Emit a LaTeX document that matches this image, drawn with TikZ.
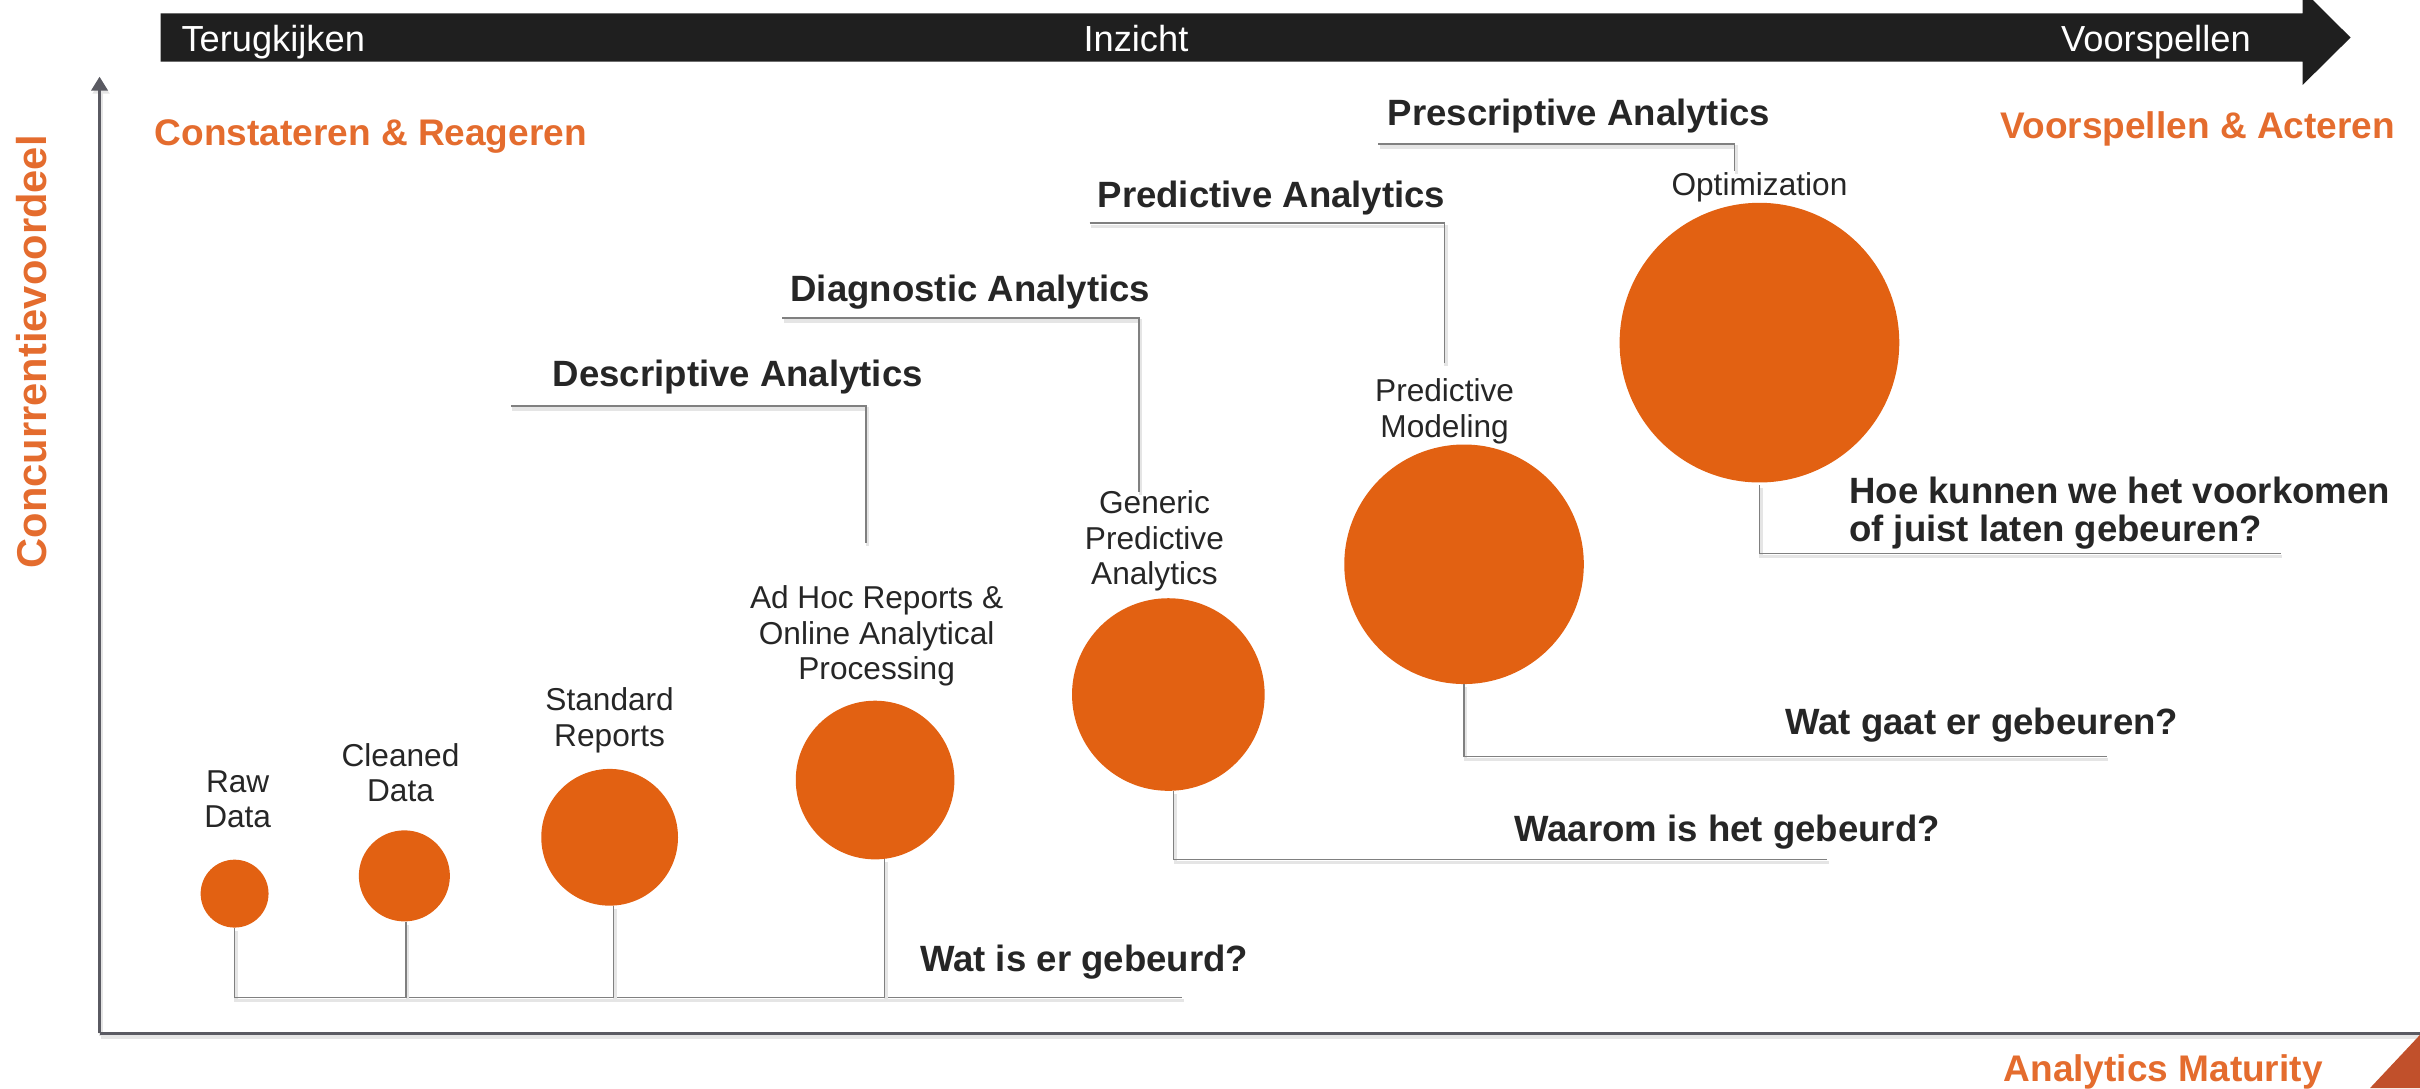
\documentclass[tikz,border=0pt]{standalone}
\usepackage{fontspec}
\setmainfont{Liberation Sans}
\usepackage{tikz}
\usetikzlibrary{positioning,arrows.meta}
\definecolor{bubble}{HTML}{E26112}
\definecolor{accent}{HTML}{E46C2E}
\definecolor{corner}{HTML}{C1502B}
\definecolor{bar}{HTML}{1F1F1F}
\definecolor{axis}{HTML}{5A5A62}
\definecolor{leadgray}{HTML}{808080}
\definecolor{ink}{HTML}{262626}

\begin{document}
\begin{tikzpicture}[x=1pt,y=-1pt,
    bubble/.style={circle, fill=bubble, inner sep=0pt, minimum size=#1},
    lbl/.style={font=\fontsize{20.5}{23}\selectfont, align=center, inner sep=0pt, text=ink},
    quest/.style={font=\bfseries\fontsize{23.7}{24.5}\selectfont, inner sep=0pt, text=ink},
    zone/.style={font=\bfseries\fontsize{24}{28}\selectfont, inner sep=0pt, text=accent},
    bartext/.style={font=\fontsize{23.5}{28}\selectfont, inner sep=0pt, text=white},
    shadowed/.style={preaction={draw=black!10, line width=#1, transform canvas={xshift=1pt, yshift=-2pt}}},
    leader/.style={draw=leadgray, line width=0.9pt, shadowed=2.2pt},
    axisline/.style={draw=axis, line width=1.7pt, shadowed=3pt}]
  \useasboundingbox (0,0) rectangle (1568,705);

  % Top bar
  \fill[bar] (104,8.6) -- (1492,8.6) -- (1492,0) -- (1498.5,0) -- (1523,24.3)
    -- (1492,55) -- (1492,40) -- (104,40) -- cycle;
  \node[bartext, anchor=base west] (back) at (117.4,33.5) {Terugkijken};
  \node[bartext, anchor=base] (insight) at (736,33.5) {Inzicht};
  \node[bartext, anchor=base east] (ahead) at (1458.5,33.5) {Voorspellen};

  % Axes
  \coordinate (origin) at (64.5,669.5);
  \coordinate (ytop) at (64.5,49.7);
  \coordinate (xend) at (1568,669.5);
  \draw[axisline, -{Triangle[width=10.6pt,length=9pt]}] (origin) -- (ytop);
  \draw[axisline] (origin) -- (xend);
  \fill[corner] (1535.6,705) -- (1568,670.5) -- (1568,705) -- cycle;
  \node[zone, font=\bfseries\fontsize{27}{30}\selectfont, rotate=90, anchor=base] (yaxis) at (30.3,228) {Concurrentievoordeel};
  \node[zone, anchor=base west] (xaxis) at (1298,701) {Analytics Maturity};
  \node[zone, anchor=base west] (react) at (100,94) {Constateren \& Reageren};
  \node[zone, anchor=base east] (act) at (1552,89.6) {Voorspellen \& Acteren};

  % Define nodes
  \node[bubble=44pt] (raw) at (152,579) {};
  \node[bubble=59pt] (clean) at (262,567.5) {};
  \node[bubble=88.6pt] (std) at (395,542.5) {};
  \node[bubble=102.8pt] (adhoc) at (567,505.4) {};
  \node[bubble=124.8pt] (gpa) at (757,450) {};
  \node[bubble=155.2pt] (pmod) at (948.6,365.6) {};
  \node[bubble=181.2pt] (opt) at (1140,222) {};

  \node[lbl, above=20pt of raw, xshift=2pt] (rawlbl) {Raw\\Data};
  \node[lbl, above=18pt of clean, xshift=-2.5pt] (cleanlbl) {Cleaned\\Data};
  \node[lbl, above=10pt of std] (stdlbl) {Standard\\Reports};
  \node[lbl, above=9pt of adhoc, xshift=1pt] (adhoclbl) {Ad Hoc Reports \&\\Online Analytical\\Processing};
  \node[lbl, above=4pt of gpa, xshift=-9pt] (gpalbl) {Generic\\Predictive\\Analytics};
  \node[lbl, above=0pt of pmod, xshift=-12.6pt] (pmodlbl) {Predictive\\Modeling};
  \node[lbl, above=0pt of opt] (optlbl) {Optimization};

  \node[quest, anchor=base west] (desc) at (358,250.5) {Descriptive Analytics};
  \node[quest, anchor=base west] (diag) at (512,195.5) {Diagnostic Analytics};
  \node[quest, anchor=base west] (pred) at (711,134.5) {Predictive Analytics};
  \node[quest, anchor=base west] (presc) at (899,81.5) {Prescriptive Analytics};

  \node[quest, anchor=base west] (q1) at (596,629.6) {Wat is er gebeurd?};
  \node[quest, anchor=base west] (q2) at (981,545) {Waarom is het gebeurd?};
  \node[quest, anchor=base west] (q3) at (1156.5,476) {Wat gaat er gebeuren?};
  \node[quest, anchor=north west, align=left] (q4) at (1198,308.7) {Hoe kunnen we het voorkomen\\of juist laten gebeuren?};

  % Connect the nodes
  \coordinate (descL) at (331,263);
  \coordinate (descE) at (561,352);
  \coordinate (diagL) at (507,206);
  \coordinate (diagE) at (738,318.6);
  \coordinate (predL) at (706,144.6);
  \coordinate (predE) at (936,235.4);
  \coordinate (prescL) at (893,93.3);
  \coordinate (prescE) at (1124,111);
  \draw[leader] (descL) -| (descE);
  \draw[leader] (diagL) -| (diagE);
  \draw[leader] (predL) -| (predE);
  \draw[leader] (prescL) -| (prescE);

  \coordinate (q1end) at (766,646.4);
  \coordinate (q2end) at (1184,557);
  \coordinate (q3end) at (1365,490);
  \coordinate (q4end) at (1477.6,358.5);
  \draw[leader] (raw.south) |- (q1end);
  \draw[leader] ([xshift=1pt]clean.south) -- ([xshift=1pt]clean.south |- q1end);
  \draw[leader] ([xshift=2.6pt]std.south) -- ([xshift=2.6pt]std.south |- q1end);
  \draw[leader] ([xshift=6pt,yshift=0.5pt]adhoc.south) -- ([xshift=6pt]adhoc.south |- q1end);
  \draw[leader] ([xshift=3.5pt]gpa.south) |- (q2end);
  \draw[leader] (pmod.south) |- (q3end);
  \draw[leader] ([yshift=-1.5pt]opt.south) |- (q4end);
\end{tikzpicture}
\end{document}
